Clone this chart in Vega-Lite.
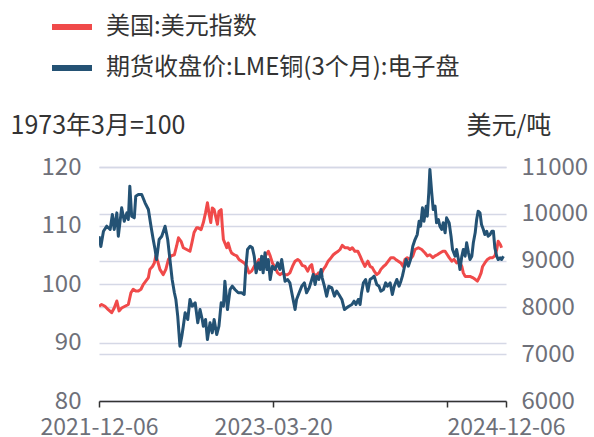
{
  "$schema": "https://vega.github.io/schema/vega-lite/v6.json",
  "width": 407,
  "height": 234,
  "autosize": {"type": "none"},
  "padding": {"left": 99, "top": 167, "right": 88, "bottom": 36},
  "background": "white",
  "config": {
    "view": {"stroke": null},
    "font": "Noto Sans CJK SC",
    "axis": {"labelFont": "Noto Sans CJK SC", "titleFont": "Noto Sans CJK SC"},
    "legend": {"labelFont": "Noto Sans CJK SC"}
  },
  "datasets": {
    "usd": [
      {"date": "2021-12-06", "v": 96.2}, {"date": "2021-12-13", "v": 96.5}, {"date": "2021-12-22", "v": 96.2}, {"date": "2021-12-31", "v": 95.6},
      {"date": "2022-01-09", "v": 95.1}, {"date": "2022-01-16", "v": 95.9}, {"date": "2022-01-23", "v": 97.1}, {"date": "2022-01-29", "v": 95.4},
      {"date": "2022-02-05", "v": 95.9}, {"date": "2022-02-14", "v": 96.2}, {"date": "2022-02-23", "v": 96.5}, {"date": "2022-03-02", "v": 98.5},
      {"date": "2022-03-08", "v": 99.1}, {"date": "2022-03-15", "v": 98.8}, {"date": "2022-03-22", "v": 98.8}, {"date": "2022-03-29", "v": 99.1},
      {"date": "2022-04-04", "v": 99.9}, {"date": "2022-04-11", "v": 100.5}, {"date": "2022-04-18", "v": 101.1}, {"date": "2022-04-22", "v": 102.5},
      {"date": "2022-04-29", "v": 103.0}, {"date": "2022-05-04", "v": 103.6}, {"date": "2022-05-08", "v": 104.8}, {"date": "2022-05-13", "v": 103.9},
      {"date": "2022-05-19", "v": 102.5}, {"date": "2022-05-28", "v": 101.6}, {"date": "2022-06-04", "v": 102.5}, {"date": "2022-06-11", "v": 104.2},
      {"date": "2022-06-18", "v": 104.8}, {"date": "2022-06-27", "v": 105.0}, {"date": "2022-07-03", "v": 106.5}, {"date": "2022-07-08", "v": 107.9},
      {"date": "2022-07-15", "v": 107.3}, {"date": "2022-07-21", "v": 106.2}, {"date": "2022-07-30", "v": 105.9}, {"date": "2022-08-08", "v": 105.6},
      {"date": "2022-08-13", "v": 107.0}, {"date": "2022-08-19", "v": 108.8}, {"date": "2022-08-26", "v": 109.6}, {"date": "2022-08-30", "v": 109.6},
      {"date": "2022-09-07", "v": 109.3}, {"date": "2022-09-13", "v": 110.5}, {"date": "2022-09-19", "v": 112.2}, {"date": "2022-09-24", "v": 113.9},
      {"date": "2022-09-28", "v": 112.2}, {"date": "2022-10-03", "v": 110.5}, {"date": "2022-10-07", "v": 113.0}, {"date": "2022-10-12", "v": 112.7},
      {"date": "2022-10-16", "v": 111.6}, {"date": "2022-10-21", "v": 110.2}, {"date": "2022-10-25", "v": 112.4}, {"date": "2022-10-31", "v": 112.7},
      {"date": "2022-11-03", "v": 109.9}, {"date": "2022-11-06", "v": 107.6}, {"date": "2022-11-10", "v": 107.0}, {"date": "2022-11-15", "v": 106.2},
      {"date": "2022-11-19", "v": 107.0}, {"date": "2022-11-24", "v": 105.9}, {"date": "2022-11-28", "v": 105.3}, {"date": "2022-12-05", "v": 105.0},
      {"date": "2022-12-12", "v": 104.8}, {"date": "2022-12-18", "v": 104.2}, {"date": "2022-12-25", "v": 103.9}, {"date": "2023-01-01", "v": 103.6},
      {"date": "2023-01-08", "v": 103.0}, {"date": "2023-01-14", "v": 101.9}, {"date": "2023-01-21", "v": 102.2}, {"date": "2023-01-28", "v": 103.0},
      {"date": "2023-02-04", "v": 103.6}, {"date": "2023-02-10", "v": 104.2}, {"date": "2023-02-17", "v": 103.6}, {"date": "2023-02-23", "v": 104.5},
      {"date": "2023-03-01", "v": 105.0}, {"date": "2023-03-07", "v": 105.6}, {"date": "2023-03-12", "v": 104.8}, {"date": "2023-03-18", "v": 103.6},
      {"date": "2023-03-25", "v": 102.8}, {"date": "2023-04-01", "v": 101.9}, {"date": "2023-04-07", "v": 101.6}, {"date": "2023-04-14", "v": 101.9},
      {"date": "2023-04-21", "v": 101.6}, {"date": "2023-04-28", "v": 101.6}, {"date": "2023-05-04", "v": 101.9}, {"date": "2023-05-11", "v": 103.0},
      {"date": "2023-05-18", "v": 103.9}, {"date": "2023-05-25", "v": 104.2}, {"date": "2023-05-31", "v": 103.9}, {"date": "2023-06-06", "v": 103.2},
      {"date": "2023-06-14", "v": 103.0}, {"date": "2023-06-21", "v": 102.2}, {"date": "2023-06-27", "v": 103.0}, {"date": "2023-07-02", "v": 103.3},
      {"date": "2023-07-06", "v": 101.9}, {"date": "2023-07-13", "v": 101.3}, {"date": "2023-07-20", "v": 101.9}, {"date": "2023-07-27", "v": 101.6},
      {"date": "2023-08-02", "v": 102.5}, {"date": "2023-08-08", "v": 103.0}, {"date": "2023-08-15", "v": 103.9}, {"date": "2023-08-23", "v": 104.5},
      {"date": "2023-08-29", "v": 105.0}, {"date": "2023-09-04", "v": 105.3}, {"date": "2023-09-11", "v": 105.6}, {"date": "2023-09-16", "v": 105.9},
      {"date": "2023-09-22", "v": 106.6}, {"date": "2023-09-29", "v": 106.2}, {"date": "2023-10-07", "v": 106.2}, {"date": "2023-10-13", "v": 105.9},
      {"date": "2023-10-19", "v": 106.2}, {"date": "2023-10-26", "v": 105.6}, {"date": "2023-11-03", "v": 105.6}, {"date": "2023-11-09", "v": 104.8},
      {"date": "2023-11-15", "v": 103.9}, {"date": "2023-11-22", "v": 103.0}, {"date": "2023-11-30", "v": 103.9}, {"date": "2023-12-06", "v": 103.0},
      {"date": "2023-12-12", "v": 102.8}, {"date": "2023-12-17", "v": 102.2}, {"date": "2023-12-24", "v": 101.6}, {"date": "2023-12-30", "v": 101.9},
      {"date": "2024-01-04", "v": 102.5}, {"date": "2024-01-11", "v": 103.0}, {"date": "2024-01-17", "v": 103.3}, {"date": "2024-01-24", "v": 103.9},
      {"date": "2024-01-31", "v": 104.5}, {"date": "2024-02-07", "v": 104.5}, {"date": "2024-02-13", "v": 104.2}, {"date": "2024-02-20", "v": 103.9},
      {"date": "2024-02-27", "v": 103.6}, {"date": "2024-03-04", "v": 103.0}, {"date": "2024-03-09", "v": 104.2}, {"date": "2024-03-15", "v": 104.5},
      {"date": "2024-03-22", "v": 104.2}, {"date": "2024-03-30", "v": 104.8}, {"date": "2024-04-05", "v": 105.9}, {"date": "2024-04-14", "v": 106.2},
      {"date": "2024-04-23", "v": 105.9}, {"date": "2024-05-02", "v": 105.3}, {"date": "2024-05-08", "v": 104.8}, {"date": "2024-05-15", "v": 105.0},
      {"date": "2024-05-23", "v": 104.5}, {"date": "2024-05-29", "v": 104.8}, {"date": "2024-06-04", "v": 105.0}, {"date": "2024-06-11", "v": 105.3},
      {"date": "2024-06-19", "v": 105.6}, {"date": "2024-06-25", "v": 105.6}, {"date": "2024-07-01", "v": 105.0}, {"date": "2024-07-06", "v": 104.5},
      {"date": "2024-07-13", "v": 103.9}, {"date": "2024-07-19", "v": 104.2}, {"date": "2024-07-26", "v": 103.6}, {"date": "2024-08-02", "v": 103.9},
      {"date": "2024-08-09", "v": 103.0}, {"date": "2024-08-13", "v": 101.9}, {"date": "2024-08-18", "v": 101.3}, {"date": "2024-08-24", "v": 101.3},
      {"date": "2024-08-31", "v": 101.3}, {"date": "2024-09-07", "v": 101.1}, {"date": "2024-09-14", "v": 100.8}, {"date": "2024-09-20", "v": 100.5},
      {"date": "2024-09-25", "v": 101.1}, {"date": "2024-09-30", "v": 101.9}, {"date": "2024-10-04", "v": 103.0}, {"date": "2024-10-10", "v": 103.6},
      {"date": "2024-10-17", "v": 104.2}, {"date": "2024-10-24", "v": 104.5}, {"date": "2024-10-31", "v": 104.5}, {"date": "2024-11-06", "v": 104.8},
      {"date": "2024-11-11", "v": 105.9}, {"date": "2024-11-15", "v": 107.3}, {"date": "2024-11-21", "v": 106.7}, {"date": "2024-11-24", "v": 106.2}
    ],
    "cu": [
      {"date": "2021-12-06", "v": 9521}, {"date": "2021-12-11", "v": 9300}, {"date": "2021-12-18", "v": 9628}, {"date": "2021-12-27", "v": 9735},
      {"date": "2022-01-05", "v": 9665}, {"date": "2022-01-11", "v": 9985}, {"date": "2022-01-16", "v": 9665}, {"date": "2022-01-23", "v": 10020},
      {"date": "2022-01-27", "v": 9520}, {"date": "2022-02-05", "v": 10128}, {"date": "2022-02-12", "v": 9842}, {"date": "2022-02-19", "v": 10020},
      {"date": "2022-02-23", "v": 9878}, {"date": "2022-02-27", "v": 10590}, {"date": "2022-03-04", "v": 9949}, {"date": "2022-03-11", "v": 9914},
      {"date": "2022-03-15", "v": 10376}, {"date": "2022-03-22", "v": 10412}, {"date": "2022-03-31", "v": 10412}, {"date": "2022-04-09", "v": 10235},
      {"date": "2022-04-18", "v": 10092}, {"date": "2022-04-25", "v": 9735}, {"date": "2022-05-01", "v": 9450}, {"date": "2022-05-06", "v": 9237},
      {"date": "2022-05-10", "v": 9023}, {"date": "2022-05-17", "v": 9450}, {"date": "2022-05-24", "v": 9521}, {"date": "2022-06-02", "v": 9735},
      {"date": "2022-06-09", "v": 9450}, {"date": "2022-06-15", "v": 9023}, {"date": "2022-06-21", "v": 8596}, {"date": "2022-06-27", "v": 8312},
      {"date": "2022-07-01", "v": 8169}, {"date": "2022-07-06", "v": 7812}, {"date": "2022-07-12", "v": 7170}, {"date": "2022-07-17", "v": 7384},
      {"date": "2022-07-21", "v": 7598}, {"date": "2022-07-26", "v": 7884}, {"date": "2022-08-02", "v": 7741}, {"date": "2022-08-08", "v": 8169},
      {"date": "2022-08-14", "v": 8026}, {"date": "2022-08-22", "v": 8098}, {"date": "2022-08-29", "v": 7670}, {"date": "2022-09-04", "v": 7955},
      {"date": "2022-09-10", "v": 7741}, {"date": "2022-09-13", "v": 7598}, {"date": "2022-09-19", "v": 7741}, {"date": "2022-09-24", "v": 7313},
      {"date": "2022-10-01", "v": 7670}, {"date": "2022-10-07", "v": 7457}, {"date": "2022-10-12", "v": 7741}, {"date": "2022-10-19", "v": 7421},
      {"date": "2022-10-25", "v": 7598}, {"date": "2022-10-31", "v": 8098}, {"date": "2022-11-06", "v": 8026}, {"date": "2022-11-10", "v": 8560},
      {"date": "2022-11-17", "v": 7955}, {"date": "2022-11-24", "v": 8382}, {"date": "2022-11-30", "v": 8453}, {"date": "2022-12-07", "v": 8382},
      {"date": "2022-12-16", "v": 8312}, {"date": "2022-12-25", "v": 8312}, {"date": "2023-01-01", "v": 8275}, {"date": "2023-01-05", "v": 8810},
      {"date": "2023-01-10", "v": 9237}, {"date": "2023-01-17", "v": 9307}, {"date": "2023-01-23", "v": 9273}, {"date": "2023-01-28", "v": 9094},
      {"date": "2023-02-02", "v": 8739}, {"date": "2023-02-08", "v": 8953}, {"date": "2023-02-13", "v": 8810}, {"date": "2023-02-17", "v": 9094},
      {"date": "2023-02-21", "v": 8739}, {"date": "2023-02-26", "v": 9166}, {"date": "2023-03-03", "v": 8810}, {"date": "2023-03-07", "v": 9023},
      {"date": "2023-03-12", "v": 8596}, {"date": "2023-03-18", "v": 8881}, {"date": "2023-03-25", "v": 8810}, {"date": "2023-04-01", "v": 8953},
      {"date": "2023-04-07", "v": 8810}, {"date": "2023-04-12", "v": 9023}, {"date": "2023-04-16", "v": 8810}, {"date": "2023-04-21", "v": 8560},
      {"date": "2023-04-28", "v": 8596}, {"date": "2023-05-04", "v": 8525}, {"date": "2023-05-11", "v": 8240}, {"date": "2023-05-18", "v": 7955},
      {"date": "2023-05-22", "v": 8169}, {"date": "2023-05-29", "v": 8312}, {"date": "2023-06-05", "v": 8453}, {"date": "2023-06-12", "v": 8525},
      {"date": "2023-06-18", "v": 8312}, {"date": "2023-06-25", "v": 8418}, {"date": "2023-07-02", "v": 8596}, {"date": "2023-07-06", "v": 8703},
      {"date": "2023-07-11", "v": 8489}, {"date": "2023-07-15", "v": 8667}, {"date": "2023-07-21", "v": 8596}, {"date": "2023-07-27", "v": 8810},
      {"date": "2023-07-30", "v": 8632}, {"date": "2023-08-05", "v": 8453}, {"date": "2023-08-11", "v": 8240}, {"date": "2023-08-17", "v": 8453},
      {"date": "2023-08-25", "v": 8418}, {"date": "2023-09-01", "v": 8240}, {"date": "2023-09-07", "v": 8347}, {"date": "2023-09-13", "v": 8275},
      {"date": "2023-09-21", "v": 8169}, {"date": "2023-09-28", "v": 7955}, {"date": "2023-10-04", "v": 7991}, {"date": "2023-10-10", "v": 8026},
      {"date": "2023-10-18", "v": 8062}, {"date": "2023-10-24", "v": 8133}, {"date": "2023-10-29", "v": 8062}, {"date": "2023-11-04", "v": 8169},
      {"date": "2023-11-09", "v": 8062}, {"date": "2023-11-13", "v": 8312}, {"date": "2023-11-18", "v": 8525}, {"date": "2023-11-24", "v": 8596},
      {"date": "2023-11-30", "v": 8347}, {"date": "2023-12-06", "v": 8596}, {"date": "2023-12-12", "v": 8632}, {"date": "2023-12-17", "v": 8667},
      {"date": "2023-12-24", "v": 8489}, {"date": "2023-12-30", "v": 8453}, {"date": "2024-01-04", "v": 8347}, {"date": "2024-01-11", "v": 8382},
      {"date": "2024-01-17", "v": 8525}, {"date": "2024-01-22", "v": 8453}, {"date": "2024-01-29", "v": 8525}, {"date": "2024-02-04", "v": 8275},
      {"date": "2024-02-09", "v": 8453}, {"date": "2024-02-16", "v": 8596}, {"date": "2024-02-22", "v": 8453}, {"date": "2024-02-27", "v": 8560},
      {"date": "2024-03-02", "v": 8667}, {"date": "2024-03-06", "v": 8810}, {"date": "2024-03-12", "v": 9023}, {"date": "2024-03-18", "v": 8881},
      {"date": "2024-03-24", "v": 9023}, {"date": "2024-03-30", "v": 9307}, {"date": "2024-04-05", "v": 9450}, {"date": "2024-04-11", "v": 9557},
      {"date": "2024-04-16", "v": 9842}, {"date": "2024-04-20", "v": 9735}, {"date": "2024-04-25", "v": 10128}, {"date": "2024-04-29", "v": 9842},
      {"date": "2024-05-05", "v": 10163}, {"date": "2024-05-08", "v": 9949}, {"date": "2024-05-12", "v": 10449}, {"date": "2024-05-15", "v": 10947},
      {"date": "2024-05-20", "v": 10449}, {"date": "2024-05-24", "v": 10092}, {"date": "2024-05-29", "v": 10163}, {"date": "2024-06-02", "v": 9807},
      {"date": "2024-06-07", "v": 9878}, {"date": "2024-06-11", "v": 9735}, {"date": "2024-06-16", "v": 9665}, {"date": "2024-06-20", "v": 9807},
      {"date": "2024-06-25", "v": 9593}, {"date": "2024-06-29", "v": 9914}, {"date": "2024-07-06", "v": 9807}, {"date": "2024-07-11", "v": 9521},
      {"date": "2024-07-15", "v": 9237}, {"date": "2024-07-22", "v": 9094}, {"date": "2024-07-26", "v": 9237}, {"date": "2024-07-31", "v": 9023},
      {"date": "2024-08-04", "v": 8810}, {"date": "2024-08-09", "v": 9094}, {"date": "2024-08-13", "v": 9237}, {"date": "2024-08-18", "v": 9094},
      {"date": "2024-08-22", "v": 9380}, {"date": "2024-08-27", "v": 9166}, {"date": "2024-08-31", "v": 9023}, {"date": "2024-09-05", "v": 9094},
      {"date": "2024-09-09", "v": 9380}, {"date": "2024-09-14", "v": 9593}, {"date": "2024-09-18", "v": 9878}, {"date": "2024-09-22", "v": 10056},
      {"date": "2024-09-27", "v": 10020}, {"date": "2024-10-01", "v": 9771}, {"date": "2024-10-06", "v": 9665}, {"date": "2024-10-10", "v": 9557},
      {"date": "2024-10-15", "v": 9628}, {"date": "2024-10-19", "v": 9521}, {"date": "2024-10-24", "v": 9557}, {"date": "2024-10-29", "v": 9628},
      {"date": "2024-11-02", "v": 9628}, {"date": "2024-11-06", "v": 9273}, {"date": "2024-11-11", "v": 9094}, {"date": "2024-11-15", "v": 9023},
      {"date": "2024-11-20", "v": 9059}, {"date": "2024-11-24", "v": 9023}, {"date": "2024-11-29", "v": 9094}
    ]
  },
  "encoding": {
    "x": {
      "field": "date",
      "type": "temporal",
      "scale": {
        "type": "utc",
        "domain": [
          {"year": 2021, "month": 12, "date": 6, "utc": true},
          {"year": 2024, "month": 12, "date": 6, "utc": true}
        ]
      },
      "axis": {
        "title": null,
        "values": [
          {"year": 2021, "month": 12, "date": 6, "utc": true},
          {"year": 2023, "month": 3, "date": 20, "utc": true},
          {"year": 2024, "month": 7, "date": 1, "utc": true},
          {"year": 2024, "month": 12, "date": 6, "utc": true}
        ],
        "labelExpr": "utcFormat(datum.value, '%Y-%m-%d') == '2024-07-01' ? '' : utcFormat(datum.value, '%Y-%m-%d')",
        "labelOverlap": false,
        "labelFlush": false,
        "grid": false,
        "domainColor": "#333333",
        "domainWidth": 1.5,
        "tickColor": "#333333",
        "tickWidth": 1.5,
        "tickSize": 6,
        "labelColor": "#6E7079",
        "labelFontSize": 23,
        "labelBaseline": "alphabetic",
        "labelPadding": 27
      }
    }
  },
  "layer": [
    {
      "data": {"name": "usd"},
      "mark": {"type": "line", "strokeWidth": 3, "strokeJoin": "round", "clip": true},
      "encoding": {
        "y": {
          "field": "v",
          "type": "quantitative",
          "scale": {"domain": [80, 120], "nice": false, "zero": false},
          "axis": {
            "orient": "left",
            "title": "1973年3月=100",
            "titleAngle": 0,
            "titleAlign": "left",
            "titleBaseline": "alphabetic",
            "titleX": -89,
            "titleY": -34,
            "titleFontSize": 25,
            "titleFontWeight": "normal",
            "titleColor": "#333333",
            "values": [80, 90, 100, 110, 120],
            "format": "d",
            "domain": false,
            "ticks": false,
            "labelPadding": 18,
            "labelFontSize": 24,
            "labelColor": "#6E7079",
            "grid": true,
            "gridColor": "#D5D8E6",
            "gridWidth": 1.5
          }
        },
        "color": {
          "datum": "美国:美元指数",
          "type": "nominal",
          "scale": {
            "domain": ["美国:美元指数", "期货收盘价:LME铜(3个月):电子盘"],
            "range": ["#F04A4A", "#245274"]
          },
          "legend": {
            "title": null,
            "orient": "none",
            "legendX": -50,
            "legendY": -163,
            "direction": "vertical",
            "symbolType": "stroke",
            "symbolStrokeWidth": 6,
            "symbolSize": 1600,
            "labelFontSize": 24,
            "labelLimit": 0,
            "labelColor": "#333333",
            "labelOffset": 11,
            "rowPadding": 6,
            "padding": 0
          }
        }
      }
    },
    {
      "data": {"name": "cu"},
      "mark": {"type": "line", "strokeWidth": 3, "strokeJoin": "round", "clip": true},
      "encoding": {
        "y": {
          "field": "v",
          "type": "quantitative",
          "scale": {"domain": [6000, 11000], "nice": false, "zero": false},
          "axis": {
            "orient": "right",
            "title": "美元/吨",
            "titleAngle": 0,
            "titleAlign": "left",
            "titleBaseline": "alphabetic",
            "titleX": -40,
            "titleY": -34,
            "titleFontSize": 25,
            "titleFontWeight": "normal",
            "titleColor": "#333333",
            "values": [6000, 7000, 8000, 9000, 10000, 11000],
            "format": "d",
            "domain": false,
            "ticks": false,
            "labelPadding": 15,
            "labelFontSize": 24,
            "labelColor": "#6E7079",
            "grid": true,
            "gridColor": "#D5D8E6",
            "gridWidth": 1.5
          }
        },
        "color": {"datum": "期货收盘价:LME铜(3个月):电子盘", "type": "nominal"}
      }
    }
  ],
  "resolve": {"scale": {"y": "independent"}}
}
